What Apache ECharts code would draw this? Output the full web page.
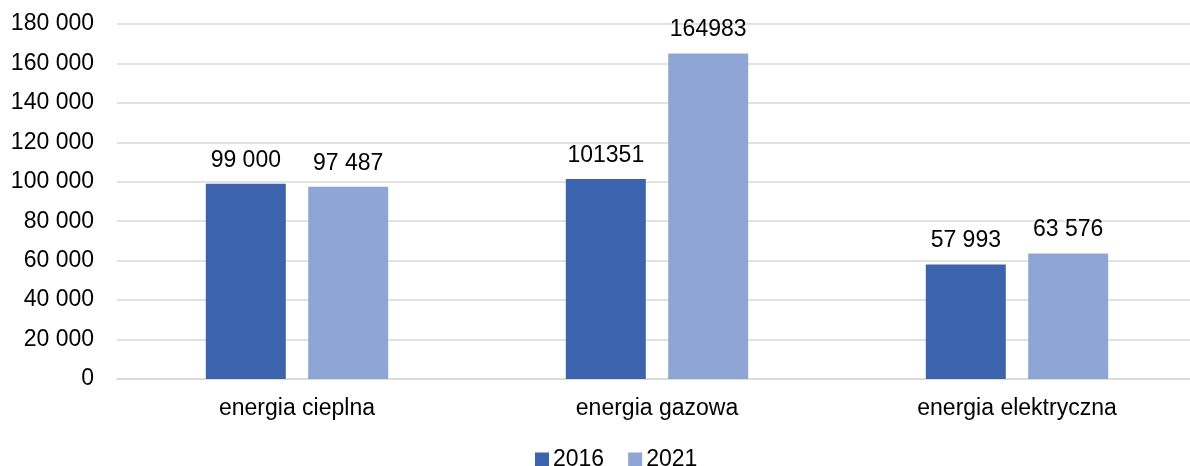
<!DOCTYPE html>
<html>
<head>
<meta charset="utf-8">
<script src="https://cdn.jsdelivr.net/npm/echarts@6/dist/echarts.min.js"></script>
<style>
html,body{margin:0;padding:0;background:#fff;overflow:hidden;width:1190px;height:466px;}
#main{width:1200px;height:466px;}
</style>
</head>
<body>
<div id="main"></div>
<script>
const categories = ['energia cieplna', 'energia gazowa', 'energia elektryczna'];
const seriesNames = ['2016', '2021'];
const values2016 = [99000, 101351, 57993];
const values2021 = [97487, 164983, 63576];
const labels2016 = ['99 000', '101351', '57 993'];
const labels2021 = ['97 487', '164983', '63 576'];
const yTicks = [0, 20000, 40000, 60000, 80000, 100000, 120000, 140000, 160000, 180000];

function fmtTick(v) {
  return String(v).replace(/\B(?=(\d{3})+(?!\d))/g, ' ');
}

const chart = echarts.init(document.getElementById('main'));
const font = 'Liberation Sans, Arial, sans-serif';
chart.setOption({
  animation: false,
  textStyle: { fontFamily: font },
  grid: { left: 117, right: 3, top: 24, bottom: 87 },
  legend: {
    data: seriesNames,
    top: 443,
    left: 530,
    itemWidth: 14,
    itemHeight: 14,
    itemGap: 24,
    icon: 'rect',
    textStyle: { fontSize: 23, color: '#000', fontFamily: font, padding: [0, 0, 0, -1] }
  },
  xAxis: {
    type: 'category',
    data: categories,
    axisTick: { show: false },
    axisLine: { lineStyle: { color: '#d9d9d9', width: 1.5 } },
    axisLabel: { fontSize: 23, color: '#000', margin: 18, fontFamily: font }
  },
  yAxis: {
    type: 'value',
    min: 0,
    max: 180000,
    interval: 20000,
    axisLine: { show: false },
    axisTick: { show: false },
    splitLine: { lineStyle: { color: '#d9d9d9', width: 1.5 } },
    axisLabel: {
      fontSize: 23, color: '#000', margin: 23, fontFamily: font,
      formatter: function (v) { return yTicks.indexOf(v) >= 0 ? fmtTick(v) : ''; }
    }
  },
  series: [
    {
      name: seriesNames[0],
      type: 'bar',
      data: values2016,
      barWidth: 80,
      barGap: '28%',
      itemStyle: { color: '#3c64ae' },
      label: {
        show: true, position: 'top', distance: 12, fontSize: 23, color: '#000', fontFamily: font,
        formatter: function (p) { return labels2016[p.dataIndex]; }
      }
    },
    {
      name: seriesNames[1],
      type: 'bar',
      data: values2021,
      barWidth: 80,
      itemStyle: { color: '#8fa5d6' },
      label: {
        show: true, position: 'top', distance: 12, fontSize: 23, color: '#000', fontFamily: font,
        formatter: function (p) { return labels2021[p.dataIndex]; }
      }
    }
  ]
});
</script>
</body>
</html>
